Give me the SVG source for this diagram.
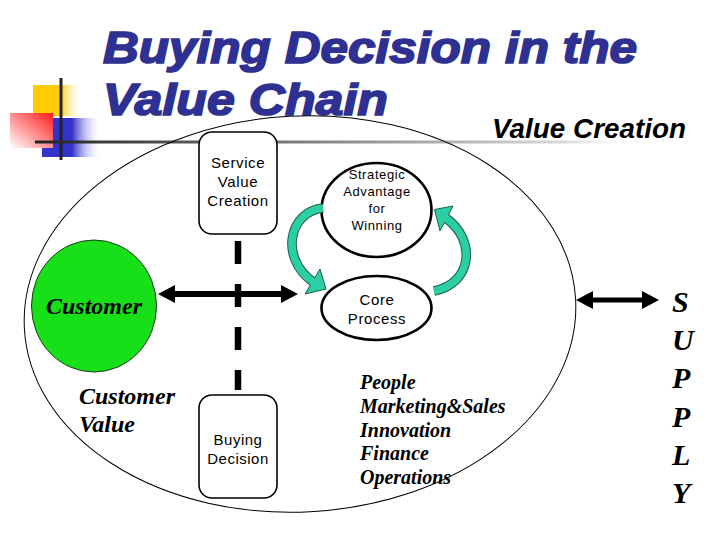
<svg xmlns="http://www.w3.org/2000/svg" width="720" height="540" viewBox="0 0 720 540">
  <style>
    .title { font-family: "Liberation Sans", Arial, sans-serif; font-weight: bold; font-style: italic; fill: #2F3192; stroke: #2F3192; stroke-width: 1.7; }
    .head { font-family: "Liberation Sans", Arial, sans-serif; font-weight: bold; font-style: italic; fill: #000; }
    .lbl { font-family: "Liberation Sans", Arial, sans-serif; fill: #000; text-anchor: middle; }
    .serif { font-family: "Liberation Serif", "Times New Roman", serif; font-weight: bold; font-style: italic; fill: #000; }
    .box { fill: #fff; stroke: #000; stroke-width: 1.6; }
    .oval { fill: #fff; stroke: #000; stroke-width: 2.6; }
    .arrow { stroke: #000; fill: none; }
    .gdark { fill: none; stroke: #1d5e4c; stroke-width: 9.6; }
    .gfill { fill: none; stroke: #2CCFA3; stroke-width: 7.6; }
    .ghead { fill: #2CCFA3; stroke: #1d5e4c; stroke-width: 1; stroke-linejoin: miter; }
  </style>
  <defs>
    <linearGradient id="gYellow" x1="0" y1="0" x2="1" y2="0">
      <stop offset="0" stop-color="#FFCC00"/>
      <stop offset="0.55" stop-color="#FFCC11"/>
      <stop offset="1" stop-color="#FFFFFF" stop-opacity="0"/>
    </linearGradient>
    <linearGradient id="gBlue" x1="0" y1="0" x2="1" y2="0">
      <stop offset="0" stop-color="#3333CC"/>
      <stop offset="0.5" stop-color="#3333CC"/>
      <stop offset="1" stop-color="#FFFFFF" stop-opacity="0"/>
    </linearGradient>
    <linearGradient id="gRed" x1="0" y1="1" x2="1" y2="0">
      <stop offset="0" stop-color="#FFFFFF"/>
      <stop offset="1" stop-color="#FF1A1A"/>
    </linearGradient>
    <linearGradient id="gLine" x1="35" y1="0" x2="620" y2="0" gradientUnits="userSpaceOnUse">
      <stop offset="0" stop-color="#222222"/>
      <stop offset="0.5" stop-color="#888888"/>
      <stop offset="0.9" stop-color="#D8D8D8"/>
      <stop offset="1" stop-color="#FFFFFF"/>
    </linearGradient>
    <marker id="ah" viewBox="0 0 17 18" refX="9" refY="9" markerWidth="17" markerHeight="18" markerUnits="userSpaceOnUse" orient="auto-start-reverse">
      <path d="M0,0 L17,9 L0,18 z" fill="#000"/>
    </marker>
  </defs>

  <rect x="0" y="0" width="720" height="540" fill="#fff"/>

  <g id="decoration">
    <rect x="33" y="85" width="50" height="31" fill="url(#gYellow)"/>
    <rect x="42" y="118" width="60" height="39" fill="url(#gBlue)"/>
    <rect x="10" y="113" width="43" height="35" fill="url(#gRed)"/>
    <line x1="61" y1="78" x2="61" y2="160" stroke="#222" stroke-width="3"/>
    <line x1="35" y1="142" x2="620" y2="142" stroke="url(#gLine)" stroke-width="3"/>
  </g>

  <g id="title">
    <text class="title" x="103" y="63" font-size="44" textLength="534" lengthAdjust="spacingAndGlyphs">Buying Decision in the</text>
    <text class="title" x="103" y="115" font-size="44" textLength="285" lengthAdjust="spacingAndGlyphs">Value Chain</text>
  </g>

  <g id="value-creation-label">
    <text class="head" x="492" y="138" font-size="27" textLength="194" lengthAdjust="spacingAndGlyphs">Value Creation</text>
  </g>

  <g id="value-chain-boundary">
    <ellipse cx="300" cy="314" rx="276" ry="198" transform="rotate(-3 300 314)" fill="none" stroke="#000" stroke-width="1"/>
  </g>

  <g id="customer">
    <ellipse cx="94" cy="306" rx="62.5" ry="66" fill="#18E018" stroke="#1a3a1a" stroke-width="1"/>
    <text class="serif" x="94" y="314" font-size="24" text-anchor="middle">Customer</text>
  </g>

  <g id="customer-value">
    <text class="serif" x="79" y="404" font-size="24">Customer</text>
    <text class="serif" x="79" y="432" font-size="24">Value</text>
  </g>

  <g id="service-value-creation">
    <rect class="box" x="199" y="132" width="78" height="102" rx="13" ry="13"/>
    <text class="lbl" x="238" y="168" font-size="15" letter-spacing="0.6">Service</text>
    <text class="lbl" x="238" y="187" font-size="15" letter-spacing="0.6">Value</text>
    <text class="lbl" x="238" y="206" font-size="15" letter-spacing="0.6">Creation</text>
  </g>

  <g id="buying-decision">
    <rect class="box" x="199" y="395" width="78" height="103" rx="13" ry="13"/>
    <text class="lbl" x="238" y="445" font-size="15" letter-spacing="0.5">Buying</text>
    <text class="lbl" x="238" y="464" font-size="15" letter-spacing="0.5">Decision</text>
  </g>

  <g id="strategic-advantage">
    <ellipse class="oval" cx="376.5" cy="210" rx="55" ry="47"/>
    <text class="lbl" x="377" y="179" font-size="13" letter-spacing="0.6">Strategic</text>
    <text class="lbl" x="377" y="196" font-size="13" letter-spacing="0.6">Advantage</text>
    <text class="lbl" x="377" y="213" font-size="13" letter-spacing="0.6">for</text>
    <text class="lbl" x="377" y="230" font-size="13" letter-spacing="0.6">Winning</text>
  </g>

  <g id="core-process">
    <ellipse class="oval" cx="376.5" cy="308" rx="55" ry="32"/>
    <text class="lbl" x="377" y="305" font-size="15" letter-spacing="0.6">Core</text>
    <text class="lbl" x="377" y="324" font-size="15" letter-spacing="0.6">Process</text>
  </g>

  <g id="functions">
    <text class="serif" x="360" y="389" font-size="20">People</text>
    <text class="serif" x="360" y="413" font-size="20">Marketing&amp;Sales</text>
    <text class="serif" x="360" y="437" font-size="20">Innovation</text>
    <text class="serif" x="360" y="460" font-size="20">Finance</text>
    <text class="serif" x="360" y="484" font-size="20">Operations</text>
  </g>

  <g id="supply">
    <text class="serif" x="672" y="312" font-size="30">S</text>
    <text class="serif" x="672" y="350" font-size="30">U</text>
    <text class="serif" x="672" y="388" font-size="30">P</text>
    <text class="serif" x="672" y="427" font-size="30">P</text>
    <text class="serif" x="672" y="465" font-size="30">L</text>
    <text class="serif" x="672" y="503" font-size="30">Y</text>
  </g>

  <g id="connectors">
    <line x1="238" y1="241" x2="238" y2="390" stroke="#000" stroke-width="6.5" stroke-dasharray="23 20"/>
    <line class="arrow" x1="166" y1="294" x2="290" y2="294" stroke-width="6" marker-start="url(#ah)" marker-end="url(#ah)"/>
    <line class="arrow" x1="584" y1="300" x2="651" y2="300" stroke-width="5" marker-start="url(#ah)" marker-end="url(#ah)"/>

    <path class="gdark" d="M 323 208 C 288 212, 280 258, 312.5 281.5"/>
    <polygon class="ghead" points="305,294 320,269 326,289"/>
    <path class="gfill" d="M 323 208 C 288 212, 280 258, 312.5 281.5 l 1.5 1"/>

    <path class="gdark" d="M 434 291 C 473 283, 476 240, 446.5 218.5"/>
    <polygon class="ghead" points="453,206 440,231 434.5,209.5"/>
    <path class="gfill" d="M 434 291 C 473 283, 476 240, 446.5 218.5 l -1.5 -1"/>
  </g>
</svg>
